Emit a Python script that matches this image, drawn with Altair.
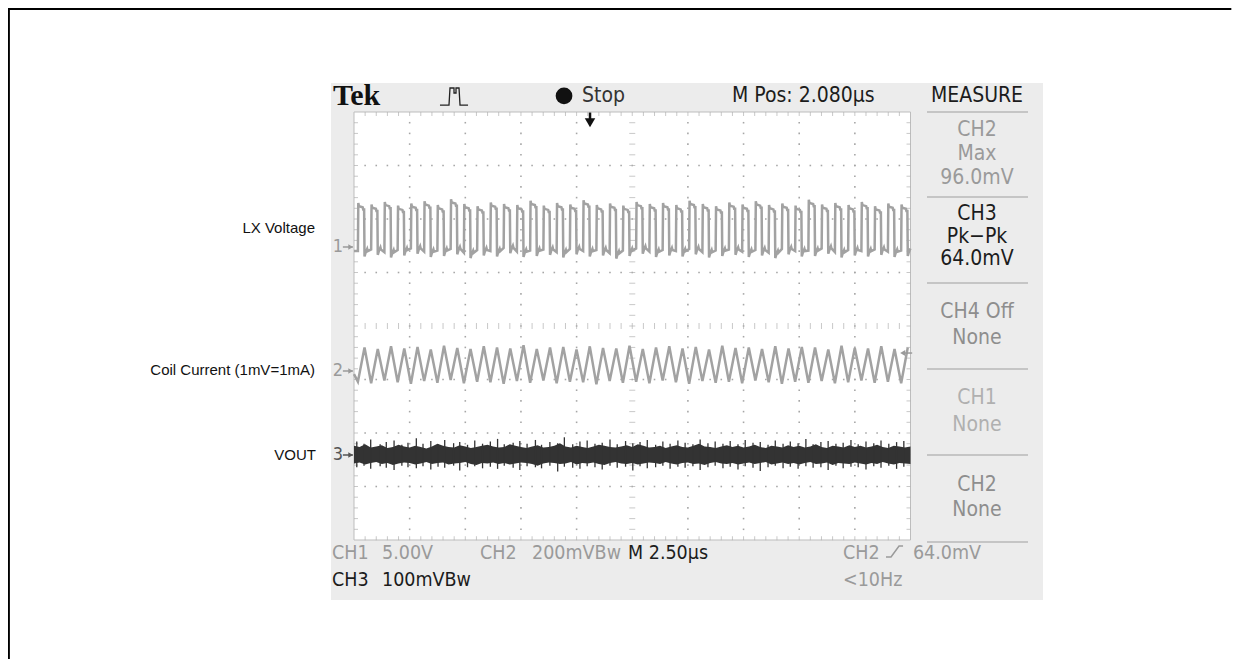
import altair as alt
import pandas as pd

# ---------------- scale: oscilloscope divisions (10 x 8 graticule) ----------------
XMIN, XMAX = -6.2174, 15.795
YMIN, YMAX = -2.224, 9.944
W, H = 1225, 651

# ---------------- data (units: divisions) ----------------
N_CYCLES = 42
LX_START = 0.07
lx_high = [6.24, 6.21, 6.26, 6.19, 6.23, 6.27, 6.20, 6.31, 6.22, 6.18, 6.25, 6.22, 6.20, 6.28,
           6.19, 6.24, 6.21, 6.29, 6.20, 6.23, 6.19, 6.26, 6.22, 6.24, 6.20, 6.28, 6.22, 6.18,
           6.25, 6.21, 6.27, 6.20, 6.23, 6.19, 6.30, 6.21, 6.24, 6.20, 6.26, 6.18, 6.23, 6.21]
lx_low = [5.40, 5.43, 5.38, 5.42, 5.45, 5.39, 5.41, 5.44, 5.37, 5.42, 5.40, 5.46, 5.39, 5.41,
          5.43, 5.38, 5.44, 5.40, 5.42, 5.36, 5.41, 5.45, 5.39, 5.42, 5.40, 5.44, 5.38, 5.41,
          5.43, 5.39, 5.42, 5.37, 5.44, 5.40, 5.41, 5.45, 5.38, 5.42, 5.40, 5.43, 5.39, 5.41]
coil_peak = [3.60, 3.57, 3.62, 3.58, 3.61, 3.56, 3.63, 3.59, 3.57, 3.62, 3.60, 3.58, 3.64, 3.57,
             3.60, 3.61, 3.56, 3.62, 3.59, 3.58, 3.63, 3.57, 3.60, 3.62, 3.58, 3.61, 3.56, 3.63,
             3.59, 3.60, 3.57, 3.62, 3.58, 3.61, 3.60, 3.56, 3.63, 3.59, 3.58, 3.62, 3.57, 3.60]
coil_trough = [2.96, 2.93, 2.98, 2.95, 2.92, 2.97, 2.94, 2.99, 2.93, 2.96, 2.95, 2.92, 2.97, 2.94,
               2.98, 2.93, 2.96, 2.95, 2.91, 2.97, 2.94, 2.96, 2.93, 2.98, 2.95, 2.92, 2.97, 2.94,
               2.96, 2.93, 2.98, 2.95, 2.92, 2.96, 2.94, 2.97, 2.93, 2.95, 2.98, 2.94, 2.96, 2.93]
# LX waveform shape inside one switching period: (fraction of period, level, offset)
lx_shape = [(0.00, "low", 0.0), (0.03, "high", 0.06), (0.08, "high", 0.0), (0.36, "high", -0.02),
            (0.40, "high", -0.06), (0.47, "high", -0.06), (0.50, "low", -0.10), (0.58, "low", -0.03),
            (0.70, "low", 0.04), (0.74, "low", 0.0)]
COIL_RISE = 0.5

vout_hi = [1.76, 1.74, 1.79, 1.73, 1.75, 1.77, 1.72, 1.74, 1.78, 1.75,
           1.73, 1.76, 1.74, 1.71, 1.75, 1.80, 1.76, 1.74, 1.73, 1.77,
           1.75, 1.72, 1.74, 1.76, 1.78, 1.75, 1.73, 1.74, 1.79, 1.76,
           1.74, 1.72, 1.75, 1.77, 1.73, 1.74, 1.76, 1.81, 1.75, 1.73,
           1.76, 1.74, 1.72, 1.75, 1.78, 1.76, 1.74, 1.73, 1.75, 1.77,
           1.74, 1.79, 1.76, 1.73, 1.74, 1.76, 1.72, 1.75, 1.77, 1.74,
           1.73, 1.76, 1.80, 1.75, 1.74, 1.72, 1.75, 1.77, 1.74, 1.76,
           1.73, 1.75, 1.78, 1.74, 1.72, 1.76, 1.75, 1.73, 1.77, 1.74,
           1.76, 1.73, 1.75, 1.79, 1.74, 1.72, 1.76, 1.75, 1.73, 1.77,
           1.74, 1.76, 1.73, 1.75, 1.78, 1.74, 1.72, 1.76, 1.75, 1.73, 1.75]
vout_lo = [1.43, 1.45, 1.41, 1.44, 1.46, 1.42, 1.44, 1.40, 1.43, 1.45,
           1.44, 1.41, 1.43, 1.46, 1.42, 1.44, 1.45, 1.41, 1.43, 1.44,
           1.46, 1.42, 1.40, 1.44, 1.43, 1.45, 1.42, 1.44, 1.41, 1.43,
           1.45, 1.44, 1.42, 1.39, 1.43, 1.45, 1.44, 1.42, 1.43, 1.46,
           1.41, 1.44, 1.43, 1.45, 1.42, 1.40, 1.44, 1.46, 1.43, 1.42,
           1.44, 1.41, 1.43, 1.45, 1.44, 1.42, 1.46, 1.43, 1.41, 1.44,
           1.45, 1.42, 1.43, 1.40, 1.44, 1.46, 1.43, 1.42, 1.44, 1.41,
           1.43, 1.45, 1.42, 1.44, 1.46, 1.41, 1.43, 1.45, 1.42, 1.44,
           1.41, 1.44, 1.46, 1.42, 1.43, 1.45, 1.40, 1.44, 1.43, 1.42,
           1.45, 1.43, 1.41, 1.44, 1.42, 1.46, 1.43, 1.41, 1.44, 1.43, 1.42]
spike_x = [0.05, 0.18, 0.30, 0.47, 0.58, 0.72, 0.86, 0.97, 1.12, 1.24,
           1.38, 1.51, 1.63, 1.79, 1.90, 2.04, 2.17, 2.31, 2.45, 2.58,
           2.70, 2.86, 2.98, 3.11, 3.26, 3.37, 3.52, 3.66, 3.78, 3.93,
           4.06, 4.19, 4.33, 4.46, 4.60, 4.73, 4.88, 5.01, 5.14, 5.27,
           5.42, 5.55, 5.68, 5.82, 5.95, 6.09, 6.22, 6.36, 6.49, 6.63,
           6.76, 6.90, 7.03, 7.17, 7.30, 7.44, 7.57, 7.71, 7.84, 7.98,
           8.12, 8.25, 8.39, 8.52, 8.66, 8.79, 8.93, 9.06, 9.20, 9.34,
           9.47, 9.61, 9.75, 9.88]
spike_top = [1.84, 1.80, 1.88, 1.79, 1.83, 1.86, 1.78, 1.82, 1.90, 1.80,
             1.85, 1.79, 1.87, 1.81, 1.83, 1.78, 1.86, 1.80, 1.84, 1.89,
             1.79, 1.82, 1.85, 1.80, 1.87, 1.78, 1.83, 1.81, 1.92, 1.79,
             1.84, 1.86, 1.80, 1.82, 1.88, 1.79, 1.85, 1.81, 1.83, 1.87,
             1.78, 1.84, 1.80, 1.86, 1.82, 1.79, 1.88, 1.81, 1.84, 1.80,
             1.85, 1.79, 1.87, 1.82, 1.83, 1.78, 1.86, 1.80, 1.84, 1.81,
             1.89, 1.79, 1.83, 1.85, 1.80, 1.82, 1.87, 1.79, 1.84, 1.81,
             1.86, 1.80, 1.83, 1.85]
spike_bot = [1.36, 1.39, 1.33, 1.38, 1.35, 1.31, 1.39, 1.36, 1.34, 1.38,
             1.32, 1.37, 1.35, 1.39, 1.30, 1.36, 1.38, 1.34, 1.37, 1.33,
             1.39, 1.35, 1.31, 1.38, 1.36, 1.34, 1.39, 1.28, 1.37, 1.35,
             1.33, 1.38, 1.36, 1.32, 1.39, 1.35, 1.37, 1.30, 1.38, 1.34,
             1.36, 1.39, 1.33, 1.37, 1.35, 1.38, 1.31, 1.36, 1.39, 1.34,
             1.37, 1.32, 1.38, 1.35, 1.29, 1.36, 1.39, 1.34, 1.37, 1.33,
             1.38, 1.35, 1.36, 1.31, 1.39, 1.34, 1.37, 1.36, 1.32, 1.38,
             1.35, 1.39, 1.33, 1.37]

# ---------------- build trace tables from the arrays ----------------
period = 10.0 / N_CYCLES
lx_rows = [(0.0, lx_low[0])]
coil_rows = [(0.0, 3.10)]
for i in range(N_CYCLES):
    t0 = LX_START + i * period
    for f, kind, off in lx_shape:
        lvl = lx_high[i] if kind == "high" else lx_low[i]
        lx_rows.append((t0 + f * period, lvl + off))
    coil_rows.append((t0, coil_trough[i]))
    coil_rows.append((t0 + COIL_RISE * period, coil_peak[i]))
lx_df = pd.DataFrame([r for r in lx_rows if r[0] <= 10.0], columns=["x", "y"]).reset_index()
coil_df = pd.DataFrame([r for r in coil_rows if r[0] <= 10.0], columns=["x", "y"]).reset_index()
vout_df = pd.DataFrame({"x": [k * 0.1 for k in range(len(vout_hi))], "y": vout_hi, "y2": vout_lo})
spike_df = pd.DataFrame({"x": spike_x, "y": spike_top, "y2": spike_bot})

# ---------------- helpers ----------------
xs = alt.Scale(domain=[XMIN, XMAX], nice=False, zero=False)
ys = alt.Scale(domain=[YMIN, YMAX], nice=False, zero=False)


def X(f="x"):
    return alt.X(f"{f}:Q", scale=xs, axis=None)


def Y(f="y"):
    return alt.Y(f"{f}:Q", scale=ys, axis=None)


def rect(df, **mk):
    return alt.Chart(df).mark_rect(**mk).encode(x=X("x"), x2="x2:Q", y=Y("y"), y2="y2:Q")


SCOPE_FONT = "Liberation Sans Narrow, DejaVu Sans Condensed, Arial Narrow, sans-serif"
GRAY_T = "#9a9a9a"
BLACK_T = "#1c1c1c"

layers = []

# outer frame (top and left edges only)
top_df = pd.DataFrame({"x": [XMIN], "x2": [XMAX - 0.03], "y": [YMAX - 0.02]})
left_df = pd.DataFrame({"x": [XMIN + 0.016], "y": [YMAX], "y2": [YMIN]})
layers.append(alt.Chart(top_df).mark_rule(color="black", strokeWidth=2).encode(
    x=X("x"), x2="x2:Q", y=Y("y")))
layers.append(alt.Chart(left_df).mark_rule(color="black", strokeWidth=2).encode(
    x=X("x"), y=Y("y"), y2="y2:Q"))

# scope screen background and graticule area
layers.append(rect(pd.DataFrame({"x": [-0.413], "x2": [12.381], "y": [8.542], "y2": [-1.121]}),
                   color="#ececec"))
layers.append(rect(pd.DataFrame({"x": [0], "x2": [10], "y": [8], "y2": [0]}), color="#ffffff",
                   stroke="#bdbdbd", strokeWidth=1))

# graticule dots
dots = []
for gx in range(1, 10):
    if gx == 5:
        continue
    for k in range(1, 40):
        dots.append((gx, k * 0.2))
for gy in range(1, 8):
    if gy == 4:
        continue
    for k in range(1, 50):
        dots.append((k * 0.2, gy))
dots_df = pd.DataFrame(dots, columns=["x", "y"])
layers.append(alt.Chart(dots_df).mark_square(size=2.5, color="#a6a6a6", opacity=1).encode(x=X(), y=Y()))

# centre cross ticks and border ticks
hticks_df = pd.DataFrame([(5, k * 0.2) for k in range(1, 40)], columns=["x", "y"])
vticks_df = pd.DataFrame([(k * 0.2, 4) for k in range(1, 50)], columns=["x", "y"])
layers.append(alt.Chart(hticks_df).mark_tick(orient="horizontal", size=6, thickness=1, color="#b0b0b0")
              .encode(x=X(), y=Y()))
layers.append(alt.Chart(vticks_df).mark_tick(orient="vertical", size=6, thickness=1, color="#b0b0b0")
              .encode(x=X(), y=Y()))
bt_v = [(k * 0.2, 8 - 0.035) for k in range(1, 50)] + [(k * 0.2, 0.035) for k in range(1, 50)]
bt_h = [(0.036, k * 0.2) for k in range(1, 40)] + [(10 - 0.036, k * 0.2) for k in range(1, 40)]
layers.append(alt.Chart(pd.DataFrame(bt_v, columns=["x", "y"])).mark_tick(
    orient="vertical", size=4, thickness=1, color="#b0b0b0").encode(x=X(), y=Y()))
layers.append(alt.Chart(pd.DataFrame(bt_h, columns=["x", "y"])).mark_tick(
    orient="horizontal", size=4, thickness=1, color="#b0b0b0").encode(x=X(), y=Y()))

# traces
layers.append(alt.Chart(lx_df).mark_line(color="#a2a2a2", strokeWidth=2.5, interpolate="linear").encode(
    x=X(), y=Y(), order="index:Q"))
layers.append(alt.Chart(coil_df).mark_line(color="#a2a2a2", strokeWidth=2.5, interpolate="linear").encode(
    x=X(), y=Y(), order="index:Q"))
layers.append(alt.Chart(vout_df).mark_area(color="#333333", opacity=1, interpolate="linear").encode(
    x=X(), y=Y("y"), y2="y2:Q"))
layers.append(alt.Chart(spike_df).mark_rule(color="#333333", strokeWidth=1.3).encode(
    x=X(), y=Y("y"), y2="y2:Q"))

# channel ground markers
mk_df = pd.DataFrame({"x": [-0.288, -0.288, -0.288], "y": [5.477, 3.159, 1.589], "t": ["1", "2", "3"],
                      "c": ["#9a9a9a", "#9a9a9a", "#555555"]})
layers.append(alt.Chart(mk_df).mark_text(align="center", baseline="middle", font=SCOPE_FONT, fontSize=18)
              .encode(x=X(), y=Y(), text="t:N", color=alt.Color("c:N", scale=None)))
mk_df["x1"] = -0.20
mk_df["x2"] = -0.02
layers.append(alt.Chart(mk_df).mark_rule(strokeWidth=1.5).encode(
    x=X("x1"), x2="x2:Q", y=Y(), color=alt.Color("c:N", scale=None)))
mk_df["xa"] = -0.06
layers.append(alt.Chart(mk_df).mark_point(shape="triangle-right", filled=True, size=30, opacity=1).encode(
    x=X("xa"), y=Y(), color=alt.Color("c:N", scale=None)))

# trigger position marker (top) and CH2 trigger level marker (right)
trig_df = pd.DataFrame({"x": [4.241], "y": [7.99], "y2": [7.83]})
layers.append(alt.Chart(trig_df).mark_rule(color="#111111", strokeWidth=2.5).encode(x=X(), y=Y(), y2="y2:Q"))
layers.append(alt.Chart(pd.DataFrame({"x": [4.241], "y": [7.80]})).mark_point(
    shape="triangle-down", filled=True, size=110, color="#111111", opacity=1).encode(x=X(), y=Y()))
lvl_df = pd.DataFrame({"x": [9.86], "x2": [10.03], "y": [3.495]})
layers.append(alt.Chart(lvl_df).mark_rule(color="#9a9a9a", strokeWidth=1.5).encode(x=X(), x2="x2:Q", y=Y()))
layers.append(alt.Chart(lvl_df).mark_point(shape="triangle-left", filled=True, size=35, color="#9a9a9a",
                                           opacity=1).encode(x=X(), y=Y()))

# header: Tek logo, acquisition icon, stop dot
layers.append(alt.Chart(pd.DataFrame({"x": [-0.377], "y": [8.30], "t": ["Tek"]})).mark_text(
    align="left", baseline="middle", font="Liberation Serif, DejaVu Serif, serif", fontWeight="bold",
    fontSize=30, color="#111111").encode(x=X(), y=Y(), text="t:N"))
icon_x = [1.545, 1.707, 1.725, 1.797, 1.797, 1.833, 1.833, 1.887, 1.905, 2.049]
icon_y = [8.130, 8.130, 8.449, 8.449, 8.355, 8.355, 8.449, 8.449, 8.130, 8.130]
layers.append(alt.Chart(pd.DataFrame({"x": icon_x, "y": icon_y}).reset_index()).mark_line(
    color="#222222", strokeWidth=1.3).encode(x=X(), y=Y(), order="index:Q"))
layers.append(alt.Chart(pd.DataFrame({"x": [3.774], "y": [8.30]})).mark_point(
    shape="circle", filled=True, size=280, color="#111111", opacity=1).encode(x=X(), y=Y()))

header_df = pd.DataFrame({"x": [4.097, 6.792], "y": [8.30, 8.30], "t": ["Stop", "M Pos: 2.080µs"],
                          "c": ["#333333", BLACK_T]})
layers.append(alt.Chart(header_df).mark_text(align="left", baseline="middle", font=SCOPE_FONT, fontSize=21)
              .encode(x=X(), y=Y(), text="t:N", color=alt.Color("c:N", scale=None)))

# measure panel
meas_txt = ["MEASURE", "CH2", "Max", "96.0mV", "CH3", "Pk\u2212Pk", "64.0mV", "CH4 Off", "None",
            "CH1", "None", "CH2", "None"]
meas_y = [8.30, 7.664, 7.215, 6.766, 6.093, 5.664, 5.252, 4.262, 3.776, 2.654, 2.150, 1.028, 0.561]
meas_c = [BLACK_T, GRAY_T, GRAY_T, GRAY_T, BLACK_T, BLACK_T, BLACK_T, "#8e8e8e", "#8e8e8e",
          "#b0b0b0", "#b0b0b0", "#8e8e8e", "#8e8e8e"]
meas_df = pd.DataFrame({"x": [11.195] * len(meas_txt), "y": meas_y, "t": meas_txt, "c": meas_c})
layers.append(alt.Chart(meas_df).mark_text(align="center", baseline="middle", font=SCOPE_FONT, fontSize=21)
              .encode(x=X(), y=Y(), text="t:N", color=alt.Color("c:N", scale=None)))
sep_y = [8.0, 6.411, 4.804, 3.196, 1.589, -0.037]
sep_df = pd.DataFrame({"x": [10.296] * len(sep_y), "x2": [12.111] * len(sep_y), "y": sep_y})
layers.append(alt.Chart(sep_df).mark_rule(color="#b8b8b8", strokeWidth=1.5).encode(x=X(), x2="x2:Q", y=Y()))

# bottom status lines
bot_txt = ["CH1", "5.00V", "CH2", "200mVBw", "M 2.50µs", "CH2", "64.0mV", "CH3", "100mVBw", "<10Hz"]
bot_x = [-0.395, 0.503, 2.264, 3.199, 4.924, 8.787, 10.043, -0.395, 0.503, 8.787]
bot_y = [-0.243] * 7 + [-0.748] * 3
bot_c = [GRAY_T, GRAY_T, GRAY_T, GRAY_T, BLACK_T, GRAY_T, GRAY_T, BLACK_T, BLACK_T, GRAY_T]
bot_df = pd.DataFrame({"x": bot_x, "y": bot_y, "t": bot_txt, "c": bot_c})
layers.append(alt.Chart(bot_df).mark_text(align="left", baseline="middle", font=SCOPE_FONT, fontSize=19.5)
              .encode(x=X(), y=Y(), text="t:N", color=alt.Color("c:N", scale=None)))
edge_x = [9.560, 9.650, 9.794, 9.866]
edge_y = [-0.318, -0.318, -0.112, -0.112]
layers.append(alt.Chart(pd.DataFrame({"x": edge_x, "y": edge_y}).reset_index()).mark_line(
    color=GRAY_T, strokeWidth=1.5).encode(x=X(), y=Y(), order="index:Q"))

# annotations left of the screen
ann_df = pd.DataFrame({"x": [-0.701, -0.701, -0.683], "y": [5.832, 3.178, 1.589],
                       "t": ["LX Voltage", "Coil Current (1mV=1mA)", "VOUT"]})
layers.append(alt.Chart(ann_df).mark_text(align="right", baseline="middle",
                                          font="Liberation Sans, Arial, Helvetica, sans-serif",
                                          fontSize=15, color="#111111").encode(x=X(), y=Y(), text="t:N"))

chart = alt.layer(*layers).properties(
    width=W, height=H, autosize=alt.AutoSizeParams(type="none"), padding=0, background="white"
).configure_view(strokeWidth=0)

chart.save("out.html", embed_options={"renderer": "svg", "actions": False})
